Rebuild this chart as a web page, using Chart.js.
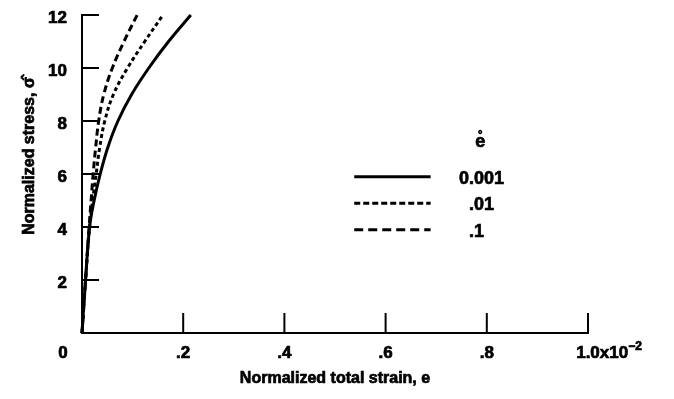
<!DOCTYPE html>
<html>
<head>
<meta charset="utf-8">
<script src="https://cdn.jsdelivr.net/npm/chart.js@4.4.1/dist/chart.umd.min.js"></script>
<style>
  html, body { margin: 0; padding: 0; background: #fff; }
  #wrap { position: relative; width: 674px; height: 399px; }
</style>
</head>
<body>
<div id="wrap"><canvas id="stress-chart"></canvas></div>
<script>
// Normalized total strain (x, in units of 1e-2) vs normalized stress
const stressLevels = [0, 2, 4, 5, 6, 7, 8, 9, 10, 11, 12];
const strainSlow = [0, 0.007, 0.015, 0.024, 0.036, 0.051, 0.071, 0.098, 0.132, 0.171, 0.215]; // 0.001
const strainMid = [0, 0.007, 0.015, 0.021, 0.028, 0.035, 0.045, 0.062, 0.09, 0.124, 0.16];    // .01
const strainFast = [0, 0.007, 0.014, 0.018, 0.022, 0.027, 0.033, 0.043, 0.06, 0.083, 0.109];  // .1

const rateLabels = ['0.001', '.01', '.1'];
const xTicks = [0, 0.2, 0.4, 0.6, 0.8, 1.0];
const xTickLabels = ['0', '.2', '.4', '.6', '.8', '1.0'];
const yTicks = [2, 4, 6, 8, 10, 12];

const FONT = '"Liberation Sans", Arial, sans-serif';

function toPoints(xs) {
  return xs.map((x, i) => ({ x, y: stressLevels[i] }));
}

function curve(label, xs, dash) {
  return {
    label,
    data: toPoints(xs),
    borderColor: '#000',
    borderWidth: 3,
    borderDash: dash,
    pointRadius: 0,
    fill: false,
    tension: 0.4,
    clip: 6,
  };
}

const dashes = [[], [4, 3], [7, 4]];
const legendDashes = [[], [6, 3], [9, 5]];

// heavier text, like the scanned original
function boldText(ctx, text, x, y) {
  ctx.fillText(text, x, y);
  ctx.strokeText(text, x, y);
}

// ticks pointing inward, tick labels, axis titles and the legend
const decorations = {
  id: 'decorations',
  afterDraw(chart) {
    const { ctx, scales: { x, y }, chartArea } = chart;
    ctx.save();
    ctx.strokeStyle = '#000';
    ctx.fillStyle = '#000';
    ctx.lineWidth = 2;

    // x ticks
    xTicks.forEach((v) => {
      const px = x.getPixelForValue(v);
      ctx.beginPath();
      ctx.moveTo(px, chartArea.bottom);
      ctx.lineTo(px, chartArea.bottom - 20);
      ctx.stroke();
    });
    // y ticks
    yTicks.forEach((v) => {
      const py = y.getPixelForValue(v);
      ctx.beginPath();
      ctx.moveTo(chartArea.left, py);
      ctx.lineTo(chartArea.left + 17, py);
      ctx.stroke();
    });

    ctx.lineWidth = 0.7;
    ctx.font = 'bold 17px ' + FONT;
    ctx.textBaseline = 'middle';

    // x tick labels
    ctx.textAlign = 'center';
    xTicks.forEach((v, i) => {
      let px = x.getPixelForValue(v);
      if (i === 0) px -= 19;
      const ty = chartArea.bottom + 20;
      if (i === xTicks.length - 1) {
        ctx.textAlign = 'center';
        boldText(ctx, xTickLabels[i], px, ty);
        const w = ctx.measureText(xTickLabels[i]).width;
        ctx.textAlign = 'left';
        const sx = px + w / 2;
        boldText(ctx, 'x10', sx, ty);
        const w2 = ctx.measureText('x10').width;
        ctx.font = 'bold 12px ' + FONT;
        boldText(ctx, '\u22122', sx + w2, ty - 6);
        ctx.font = 'bold 17px ' + FONT;
      } else {
        boldText(ctx, xTickLabels[i], px, ty);
      }
    });

    // y tick labels
    ctx.textAlign = 'right';
    yTicks.forEach((v) => {
      boldText(ctx, String(v), chartArea.left - 15, y.getPixelForValue(v) + 3);
    });

    // axis titles
    ctx.font = 'bold 16px ' + FONT;
    ctx.textAlign = 'center';
    boldText(ctx, 'Normalized total strain, e', (chartArea.left + chartArea.right) / 2, chartArea.bottom + 46);
    ctx.save();
    ctx.translate(30, 156);
    ctx.rotate(-Math.PI / 2);
    boldText(ctx, 'Normalized stress, \u03C3\u0302', 0, 0);
    ctx.restore();

    // legend
    const lx0 = x.getPixelForValue(0.538);
    const lx1 = x.getPixelForValue(0.689);
    const ltx = x.getPixelForValue(0.765);
    const rows = [y.getPixelForValue(5.9), y.getPixelForValue(4.9), y.getPixelForValue(3.9)];
    ctx.font = 'bold 18px ' + FONT;
    ctx.textAlign = 'center';
    boldText(ctx, 'e\u030A', x.getPixelForValue(0.787), y.getPixelForValue(7.2));
    rows.forEach((ry, i) => {
      ctx.lineWidth = 3;
      ctx.setLineDash(legendDashes[i]);
      ctx.beginPath();
      ctx.moveTo(lx0, ry);
      ctx.lineTo(lx1, ry);
      ctx.stroke();
      ctx.setLineDash([]);
      ctx.lineWidth = 0.7;
      // align labels on the decimal point
      const lab = rateLabels[i];
      const dot = lab.indexOf('.');
      const pre = ctx.measureText(lab.slice(0, dot)).width;
      ctx.textAlign = 'left';
      boldText(ctx, lab, ltx - pre, ry + 2);
    });
    ctx.restore();
  },
};

new Chart(document.getElementById('stress-chart').getContext('2d'), {
  type: 'line',
  data: {
    datasets: [
      curve(rateLabels[0], strainSlow, dashes[0]),
      curve(rateLabels[1], strainMid, dashes[1]),
      curve(rateLabels[2], strainFast, dashes[2]),
    ],
  },
  options: {
    responsive: true,
    maintainAspectRatio: false,
    animation: false,
    layout: { padding: { left: 82, right: 86, top: 15, bottom: 66 } },
    plugins: {
      legend: { display: false },
      tooltip: { enabled: false },
    },
    scales: {
      x: {
        type: 'linear',
        min: 0,
        max: 1.0,
        grid: { display: false, drawTicks: false },
        ticks: { display: false },
        border: { display: true, color: '#000', width: 2 },
      },
      y: {
        type: 'linear',
        min: 0,
        max: 12,
        grid: { display: false, drawTicks: false },
        ticks: { display: false },
        border: { display: true, color: '#000', width: 2 },
      },
    },
  },
  plugins: [decorations],
});
</script>
</body>
</html>
